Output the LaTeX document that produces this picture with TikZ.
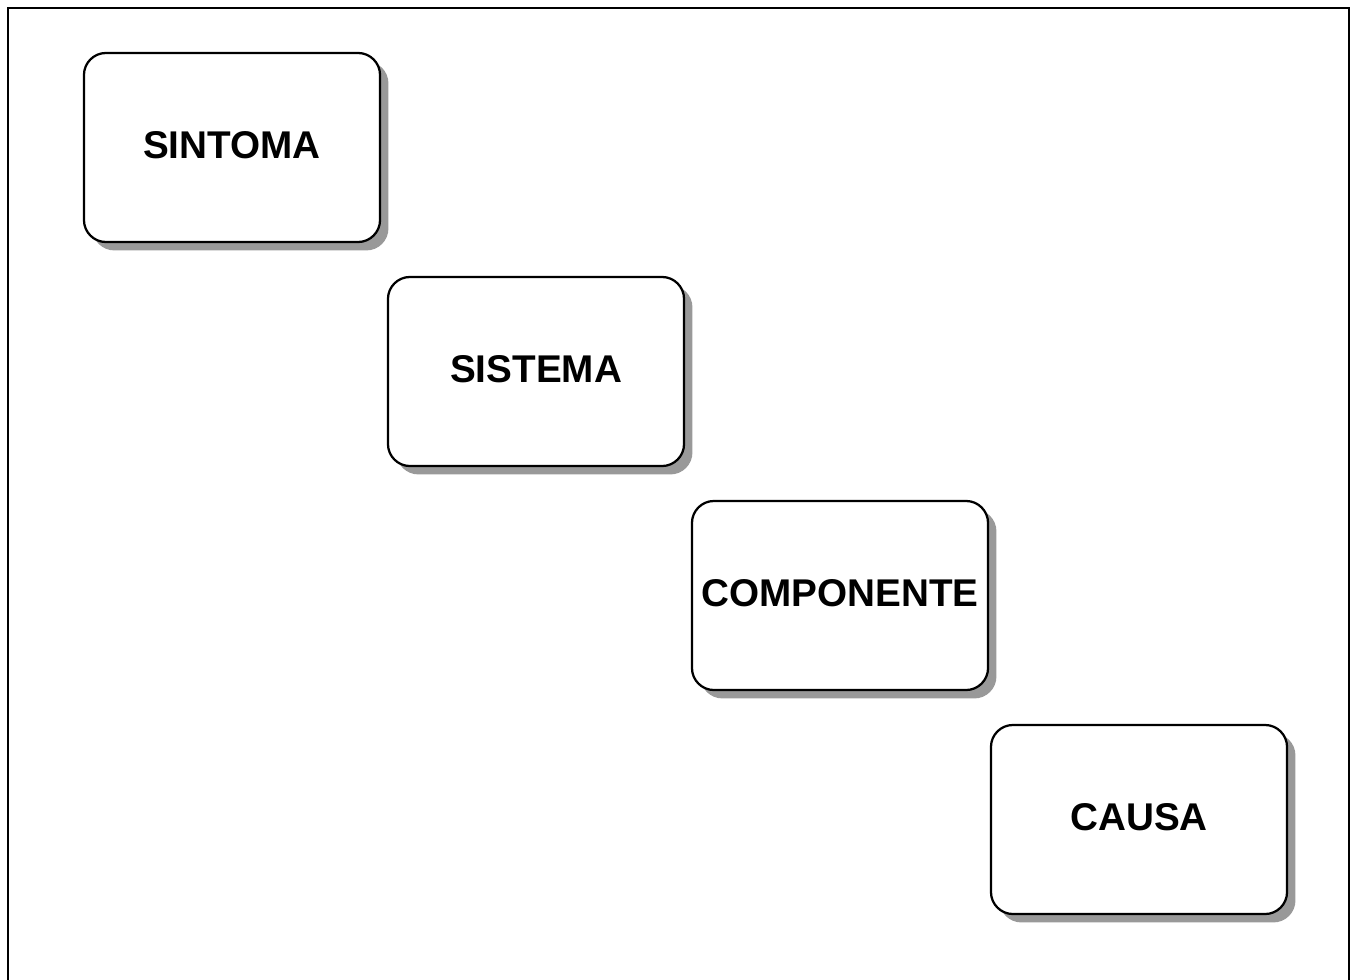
\documentclass[tikz,border=0pt]{standalone}
\usepackage{fontspec}
\setmainfont{Liberation Sans}
\usetikzlibrary{shadows}

\begin{document}
\begin{tikzpicture}[x=0.025cm,y=-0.025cm,line width=1.6pt]
			\useasboundingbox (0,0) rectangle (1352,979);
			\clip (0,0) rectangle (1352,979);
			\draw (8,8) rectangle (1349,1000);
			
			\begin{scope}[every node/.style={draw,fill=white,rounded corners=0.55cm,
				inner sep=0pt, minimum width=7.4cm, minimum height=4.725cm,
				font=\fontsize{27.5}{32}\selectfont\bfseries, text depth=3pt,
				drop shadow={shadow xshift=0.21cm,shadow yshift=-0.21cm,fill=black!40,opacity=1}}]
			\node (sintoma) at (232,147.5) {SINTOMA};
			\node (sistema) at (536,371.5) {SISTEMA};
			\node (componente) at (840,595.5) {COMPONENTE};
			\node (causa) at (1139,819.5) {CAUSA};
			\end{scope}
			\end{tikzpicture}
\end{document}
